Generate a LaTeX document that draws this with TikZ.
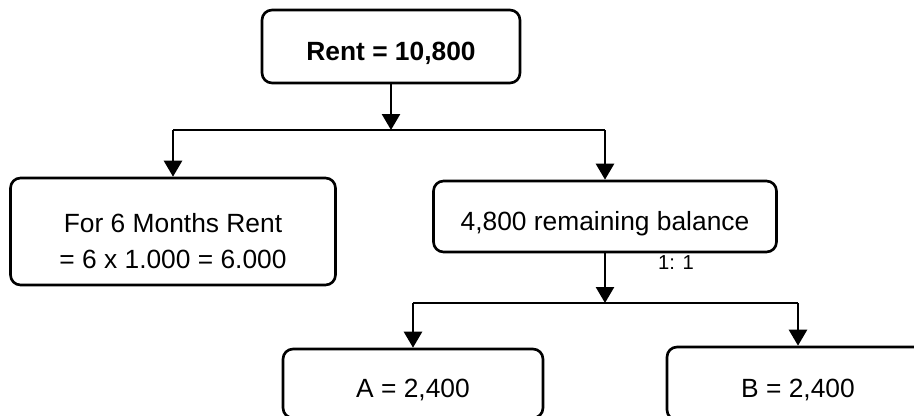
\documentclass[tikz,border=0pt]{standalone}
\usepackage{fontspec}
\setmainfont{Liberation Sans}
\usetikzlibrary{arrows.meta}

\tikzset{
	box/.style = {draw, line width = 1.5pt, rounded corners = 0.2cm, inner sep = 0pt,
		font = \fontsize{15}{18}\selectfont, text depth = 0pt, text height = 0.56cm},
	link/.style = {line width = 1.5pt},
	arrow/.style = {link, -{Triangle[width = 0.36cm, length = 0.32cm]}}
}

\begin{document}
\begin{tikzpicture}[x = 0.02cm, y = -0.02cm]

	\useasboundingbox (0, 0) rectangle (914, 416);
	\clip (0, 0) rectangle (914, 416);

	% Boxes
	
	\node [box, minimum width = 5.16cm, minimum height = 1.46cm, font = \fontsize{15}{18}\selectfont\bfseries] (rent) at (391, 46.5) {Rent = 10,800};
	
	\node [box, minimum width = 6.5cm, minimum height = 2.14cm] (months) at (173, 231.5) {};
	\node [align = center, font = \fontsize{15}{20.5}\selectfont] (monthstext) at (173, 241) {For 6 Months Rent\\= 6 x 1.000 = 6.000};
	
	\node [box, minimum width = 6.86cm, minimum height = 1.42cm] (balance) at (605, 216.5) {4,800 remaining balance};
	
	\node [box, minimum width = 5.2cm, minimum height = 1.38cm] (partA) at (413, 383.5) {A = 2,400};
	\node [box, minimum width = 5.24cm, minimum height = 1.46cm] (partB) at (798, 383.5) {B = 2,400};

	% Split points
	
	\coordinate (topsplit) at (392, 130);
	\coordinate (lowsplit) at (605, 303);

	% Connectors
	
	\draw [arrow] (rent.south) -- (rent.south |- topsplit);
	\draw [link] (months.north |- topsplit) -- (balance.north |- topsplit);
	\draw [arrow] (months.north |- topsplit) -- (months.north);
	\draw [arrow] (balance.north |- topsplit) -- (balance.north);
	
	\draw [arrow] (balance.south) -- (lowsplit);
	\node [font = \fontsize{11.5}{14}\selectfont] (ratio) at (676, 263) {1: 1};
	
	\draw [link] (partA.north |- lowsplit) -- (partB.north |- lowsplit);
	\draw [arrow] (partA.north |- lowsplit) -- (partA.north);
	\draw [arrow] (partB.north |- lowsplit) -- (partB.north);

\end{tikzpicture}
\end{document}
